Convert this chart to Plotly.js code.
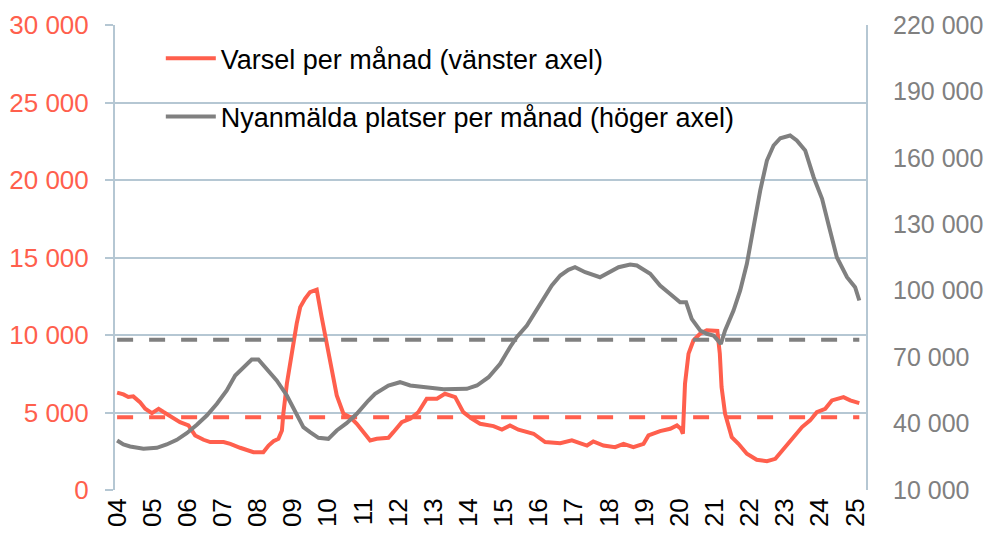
<!DOCTYPE html>
<html>
<head>
<meta charset="utf-8">
<script src="https://cdn.plot.ly/plotly-3.0.1.min.js"></script>
<style>html,body{margin:0;padding:0;background:#fff;}#chart{width:985px;height:535px;}</style>
</head>
<body>
<div id="chart"></div>
<script>
// Varsel per månad (left axis) – decimal year positions and values
const varselX = [2004.00,2004.18,2004.32,2004.46,2004.65,2004.80,2004.99,2005.18,2005.32,2005.56,2005.79,2006.03,2006.22,2006.46,2006.65,2007.03,2007.22,2007.50,2007.69,2007.88,2008.16,2008.31,2008.45,2008.59,2008.69,2008.73,2008.83,2008.97,2009.11,2009.21,2009.35,2009.49,2009.68,2009.82,2009.97,2010.11,2010.25,2010.44,2010.63,2010.82,2011.01,2011.20,2011.39,2011.72,2011.86,2012.10,2012.34,2012.57,2012.81,2013.10,2013.33,2013.62,2013.85,2014.09,2014.33,2014.71,2014.95,2015.18,2015.42,2015.85,2016.18,2016.61,2016.94,2017.37,2017.55,2017.84,2018.17,2018.41,2018.69,2018.98,2019.12,2019.45,2019.74,2019.93,2020.04,2020.10,2020.16,2020.26,2020.40,2020.59,2020.78,2021.08,2021.15,2021.20,2021.30,2021.49,2021.68,2021.92,2022.20,2022.49,2022.73,2022.96,2023.25,2023.49,2023.72,2023.91,2024.15,2024.34,2024.67,2024.86,2025.12];
const varselY = [6280,6170,6000,6040,5670,5240,4960,5240,5030,4700,4380,4165,3520,3240,3090,3090,2980,2725,2615,2440,2440,2870,3150,3300,3840,4920,6860,9010,10730,11800,12350,12770,12930,11160,9440,7720,6100,4920,4700,4275,3730,3200,3300,3370,3730,4380,4600,5020,5890,5890,6210,5990,5020,4600,4275,4120,3900,4165,3890,3630,3090,3020,3200,2870,3130,2870,2760,2980,2760,2980,3520,3800,3950,4165,3950,3630,6860,8800,9650,10090,10300,10260,8800,6640,4920,3410,2980,2340,1950,1860,2010,2660,3410,4060,4490,5020,5240,5780,5990,5780,5610];

// Nyanmälda platser per månad (right axis)
const platserX = [2004.00,2004.18,2004.37,2004.75,2005.13,2005.41,2005.70,2005.98,2006.27,2006.55,2006.84,2007.12,2007.36,2007.59,2007.83,2008.02,2008.26,2008.54,2008.83,2009.11,2009.30,2009.49,2009.73,2010.01,2010.25,2010.53,2010.82,2011.15,2011.34,2011.72,2012.05,2012.34,2012.81,2013.29,2013.95,2014.24,2014.57,2014.90,2015.18,2015.37,2015.66,2015.90,2016.13,2016.37,2016.61,2016.84,2017.03,2017.32,2017.74,2017.98,2018.27,2018.60,2018.79,2019.17,2019.45,2019.79,2020.02,2020.19,2020.35,2020.59,2020.78,2020.97,2021.18,2021.30,2021.54,2021.73,2021.92,2022.11,2022.30,2022.49,2022.68,2022.87,2023.15,2023.34,2023.58,2023.82,2024.06,2024.25,2024.48,2024.77,2025.00,2025.12];
const platserY = [32350,30550,29640,28610,29060,30550,32670,35650,39440,43640,48930,54930,61710,65460,68930,68930,64730,59450,52680,44410,38360,36100,33570,33120,36870,40170,44410,50420,53440,57190,58680,57190,56420,55520,55700,57190,60940,66990,74490,79000,84290,90300,95580,102350,106870,109440,110620,108360,106100,108090,110620,111840,111380,107640,102350,97840,94810,94810,87310,82030,80540,79770,76020,82030,91060,100100,112150,128680,145250,158800,165580,168870,170090,167830,163320,151260,141510,129450,115130,106100,101580,95580];

// Averages (dashed reference lines)
const varselMean = 4700;
const platserMean = 77800;

// Axis ticks
const yearTicks = [2004,2005,2006,2007,2008,2009,2010,2011,2012,2013,2014,2015,2016,2017,2018,2019,2020,2021,2022,2023,2024,2025];
const yearLabels = ['04','05','06','07','08','09','10','11','12','13','14','15','16','17','18','19','20','21','22','23','24','25'];
const leftTicks = [0,5000,10000,15000,20000,25000,30000];
const rightTicks = [10000,40000,70000,100000,130000,160000,190000,220000];

const names = ['Varsel per månad (vänster axel)', 'Nyanmälda platser per månad (höger axel)'];

const RED = 'rgb(255,95,77)';
const GRAY = 'rgb(128,128,128)';
const GRID = 'rgb(181,199,211)';
const FONT = 'Liberation Sans, Arial, sans-serif';

const xStart = varselX[0], xEnd = varselX[varselX.length-1];

const traces = [
  {x:[xStart,xEnd], y:[varselMean,varselMean], type:'scatter', mode:'lines', yaxis:'y',
   line:{color:RED, width:4, dash:'16px,16px'}, showlegend:false, hoverinfo:'skip'},
  {x:[xStart,xEnd], y:[platserMean,platserMean], type:'scatter', mode:'lines', yaxis:'y2',
   line:{color:GRAY, width:4, dash:'16px,16px'}, showlegend:false, hoverinfo:'skip'},
  {x:platserX, y:platserY, type:'scatter', mode:'lines', yaxis:'y2', name:names[1], legendrank:2, legendgroup:'b',
   line:{color:GRAY, width:4, shape:'linear'}},
  {x:varselX, y:varselY, type:'scatter', mode:'lines', yaxis:'y', name:names[0], legendrank:1, legendgroup:'a',
   line:{color:RED, width:4}}
];

const layout = {
  width:985, height:535,
  margin:{l:115, r:119, t:25, b:45},
  paper_bgcolor:'#fff', plot_bgcolor:'#fff',
  separators:', ',
  font:{family:FONT, size:26, color:'#000'},
  showlegend:true,
  legend:{x:0.061, y:0.98, xanchor:'left', yanchor:'top', bgcolor:'rgba(0,0,0,0)',
          font:{family:FONT, size:27, color:'#000'}, traceorder:'grouped', tracegroupgap:20, itemwidth:50},
  xaxis:{range:[2003.94,2025.31], tickvals:yearTicks, ticktext:yearLabels, tickangle:-90,
         showgrid:false, zeroline:false, showline:false, ticks:'', ticklabelstandoff:2,
         tickfont:{family:FONT, size:26, color:'#000'}},
  yaxis:{range:[0,30000], tickvals:leftTicks, tickformat:',d', showgrid:true, gridcolor:GRID, gridwidth:2,
         zeroline:false, showline:true, linecolor:GRID, linewidth:2, ticks:'outside', ticklen:8, tickwidth:2, tickcolor:GRID,
         ticklabelstandoff:11, tickfont:{family:FONT, size:26, color:RED}},
  yaxis2:{range:[10000,220000], tickvals:rightTicks, tickformat:',d', overlaying:'y', side:'right',
          showgrid:false, zeroline:false, showline:true, linecolor:GRID, linewidth:2, ticks:'',
          ticklabelstandoff:20, tickfont:{family:FONT, size:25, color:GRAY}}
};

Plotly.newPlot('chart', traces, layout, {staticPlot:true, displayModeBar:false});
</script>
</body>
</html>
